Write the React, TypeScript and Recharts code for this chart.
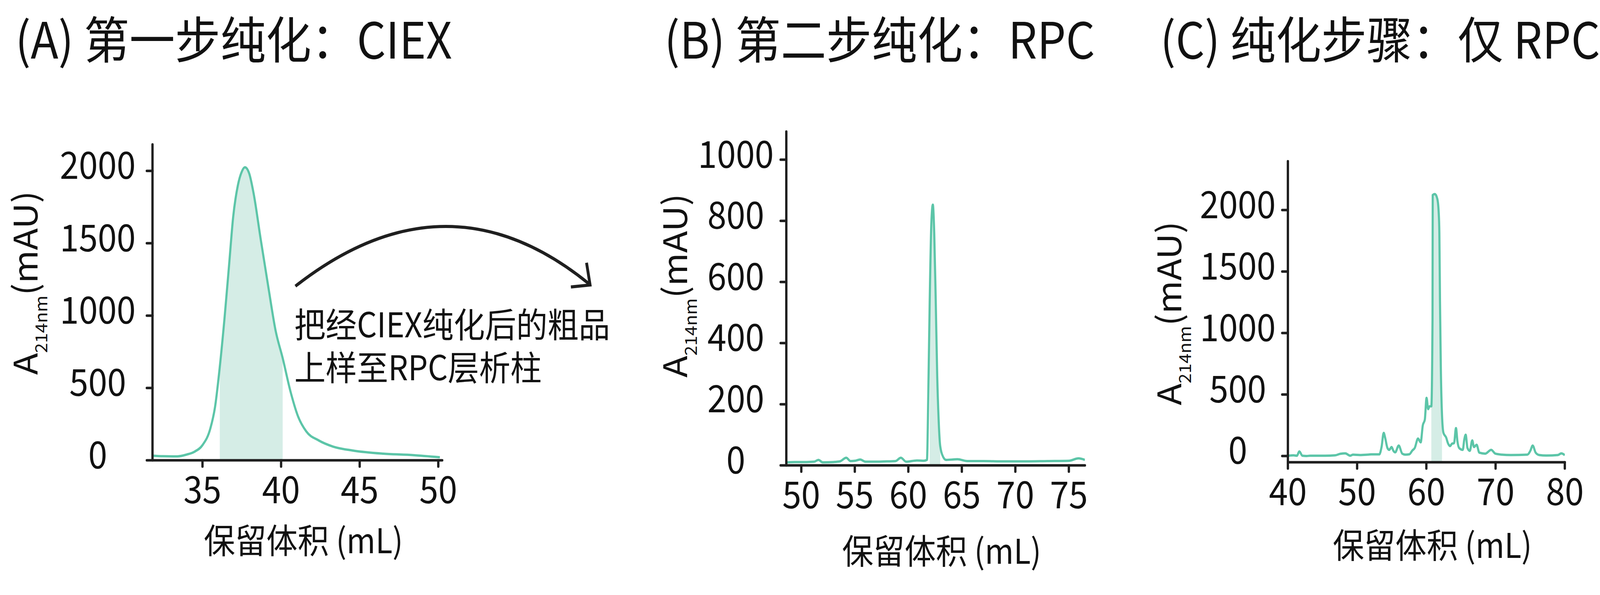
import { Area, ComposedChart, Label, Line, XAxis, YAxis } from 'recharts'

const GREEN = '#5cc5a8'
const POOL_FILL = '#d5ede6'
const INK = '#1f1f1f'
const TEXT = '#111'
const FONT = "'Noto Sans CJK SC', 'Noto Sans', sans-serif"

// the browser window stops at 4096px wide, so the 4501px layout is squeezed to fit
const PAGE_W = 4501
const PAGE_H = 1524
const FIT_X = 4096 / PAGE_W

// (A) CIEX
const ciexVolume = [31.82, 32.5, 33.4, 34.0, 34.5, 35.0, 35.5, 35.8, 36.1, 36.4, 36.7, 36.95, 37.25, 37.5, 37.7, 37.97, 38.25, 38.7, 39.2, 39.65, 40.1, 40.6, 41.07, 41.6, 42.4, 43.3, 44.6, 46.5, 48.4, 50.1]
const ciexAbs = [32, 28, 27, 40, 60, 105, 220, 370, 645, 980, 1360, 1680, 1900, 1995, 2025, 1983, 1846, 1530, 1190, 897, 707, 475, 306, 200, 137, 95, 67, 46, 36, 21]
const ciexPool = [36.1, 40.1]
const ciexXTicks = [35, 40, 45, 50]
const ciexYTicks = [0, 500, 1000, 1500, 2000]

// (B) RPC after CIEX
const rpcVolume = [48.6, 49.5, 50.5, 51.2, 51.6, 52.0, 53.0, 53.6, 54.2, 54.6, 55.0, 55.5, 56.0, 57.0, 58.0, 58.8, 59.3, 59.8, 60.8, 61.4, 61.74, 61.87, 62.0, 62.15, 62.29, 62.42, 62.56, 62.7, 62.84, 62.98, 63.25, 63.53, 64.6, 65.5, 67, 69, 71, 73, 75.0, 75.9, 76.5]
const rpcAbs = [10, 11, 11, 12, 18, 10, 11, 13, 25, 14, 15, 19, 12, 12, 13, 14, 25, 12, 16, 15, 18, 242, 541, 790, 853, 760, 541, 292, 143, 63, 28, 18, 20, 14, 14, 13, 13, 14, 15, 23, 18]
const rpcPool = [62.0, 62.98]
const rpcXTicks = [50, 55, 60, 65, 70, 75]
const rpcYTicks = [0, 200, 400, 600, 800, 1000]

// (C) RPC only
const onlyVolume = [40, 40.8, 41.3, 41.65, 42.1, 42.7, 43.2, 45.4, 46.8, 47.6, 48.3, 49.0, 49.4, 50.4, 51.5, 52.0, 53.2, 53.53, 53.84, 54.04, 54.38, 54.64, 54.98, 55.24, 55.5, 56.01, 56.52, 56.95, 57.55, 57.98, 58.32, 58.8, 59.18, 59.49, 59.78, 60.03, 60.26, 60.46, 60.72, 60.89, 60.92, 61.23, 61.58, 61.78, 61.88, 61.97, 62.09, 62.26, 62.47, 62.86, 63.12, 63.42, 63.72, 64.0, 64.28, 64.49, 64.74, 65.26, 65.48, 65.68, 65.94, 66.28, 66.63, 66.88, 67.26, 67.65, 68.51, 69.37, 69.97, 70.91, 72.19, 74.59, 75.02, 75.36, 75.79, 76.3, 77.33, 79.0, 79.5, 80]
const onlyAbs = [2, 5, 2, 37, 2, 0, 2, 2, 5, 18, 21, 2, 11, 8, 11, 13, 13, 73, 188, 150, 65, 50, 73, 42, 30, 85, 19, 11, 14, 45, 65, 142, 111, 250, 296, 473, 381, 404, 404, 1105, 2122, 2130, 2092, 1984, 1814, 1259, 720, 335, 188, 150, 104, 81, 101, 104, 227, 119, 65, 50, 134, 173, 65, 42, 127, 73, 91, 27, 19, 50, 19, 11, 8, 11, 42, 85, 27, 8, 4, 8, 21, 7]
const onlyPool = [60.72, 62.26]
const onlyXTicks = [40, 50, 60, 70, 80]
const onlyYTicks = [0, 500, 1000, 1500, 2000]

const Y_AXIS_W = 330
const X_AXIS_H = 330
const PAD_TOP = 60
const PAD_RIGHT = 80
const axisStyle = { stroke: INK, strokeWidth: 6.5, strokeLinecap: 'round' as const }

function buildRows(volume: number[], abs: number[], pool: number[]) {
  return volume.map((v, i) => ({
    v,
    abs: abs[i],
    pool: v >= pool[0] && v <= pool[1] ? abs[i] : null,
  }))
}

function YTick({ x, y, payload }: any) {
  return (
    <text x={x} y={y - 14} dy="0.36em" textAnchor="middle" fontSize={96} fill={TEXT}>
      {payload.value}
    </text>
  )
}

interface PanelProps {
  rows: { v: number; abs: number; pool: number | null }[]
  xDomain: number[]
  yDomain: number[]
  xTicks: number[]
  yTicks: number[]
  box: { left: number; right: number; top: number; bottom: number }
  yTickGap: number
  labelBaseline: number
}

function Panel({ rows, xDomain, yDomain, xTicks, yTicks, box, yTickGap, labelBaseline }: PanelProps) {
  const plotW = box.right - box.left
  const plotH = box.bottom - box.top
  return (
    <div style={{ position: 'absolute', left: box.left - Y_AXIS_W, top: box.top - PAD_TOP }}>
      <ComposedChart
        width={Y_AXIS_W + plotW + PAD_RIGHT}
        height={PAD_TOP + plotH + X_AXIS_H}
        data={rows}
        margin={{ top: PAD_TOP, right: PAD_RIGHT, left: 0, bottom: 0 }}
      >
        <XAxis
          dataKey="v"
          type="number"
          domain={xDomain}
          ticks={xTicks}
          interval={0}
          allowDataOverflow
          height={X_AXIS_H}
          tickSize={16}
          tickMargin={26}
          axisLine={axisStyle}
          tickLine={axisStyle}
          tick={{ fontSize: 96, fill: TEXT }}
        >
          <Label
            value="保留体积 (mL)"
            position="insideBottom"
            offset={box.bottom + X_AXIS_H - labelBaseline}
            dx={17}
            fontSize={88}
            fill={TEXT}
          />
        </XAxis>
        <YAxis
          type="number"
          domain={yDomain}
          ticks={yTicks}
          interval={0}
          allowDataOverflow
          width={Y_AXIS_W}
          tickSize={16}
          tickMargin={yTickGap}
          axisLine={axisStyle}
          tickLine={axisStyle}
          tick={(p: any) => <YTick {...p} />}
        />
        <Area dataKey="pool" type="monotone" stroke="none" fill={POOL_FILL} fillOpacity={1} baseValue={yDomain[0]} isAnimationActive={false} />
        <Line dataKey="abs" type="monotone" stroke={GREEN} strokeWidth={6} strokeLinejoin="round" dot={false} isAnimationActive={false} />
      </ComposedChart>
    </div>
  )
}

function YLabel({ x, y }: { x: number; y: number }) {
  return (
    <text transform={`translate(${x},${y}) rotate(-90)`} fontSize={92} fill={TEXT}>
      A
      <tspan fontSize={46} dy={27}>214nm</tspan>
      <tspan dy={-27}>(mAU)</tspan>
    </text>
  )
}

export default function App() {
  return (
    <div
      style={{
        position: 'absolute',
        left: 0,
        top: 0,
        width: PAGE_W,
        height: PAGE_H,
        background: '#fff',
        fontFamily: FONT,
        transform: `scaleX(${FIT_X})`,
        transformOrigin: '0 0',
      }}
    >
      <Panel
        rows={buildRows(ciexVolume, ciexAbs, ciexPool)}
        xDomain={[31.82, 50.25]}
        yDomain={[0, 2183]}
        xTicks={ciexXTicks}
        yTicks={ciexYTicks}
        box={{ left: 429, right: 1244, top: 370, bottom: 1179 }}
        yTickGap={138}
        labelBaseline={1417}
      />
      <Panel
        rows={buildRows(rpcVolume, rpcAbs, rpcPool)}
        xDomain={[48.6, 76.5]}
        yDomain={[0, 1092]}
        xTicks={rpcXTicks}
        yTicks={rpcYTicks}
        box={{ left: 2212, right: 3052, top: 337, bottom: 1192 }}
        yTickGap={126}
        labelBaseline={1444}
      />
      <Panel
        rows={buildRows(onlyVolume, onlyAbs, onlyPool)}
        xDomain={[40, 80]}
        yDomain={[-51, 2397]}
        xTicks={onlyXTicks}
        yTicks={onlyYTicks}
        box={{ left: 3623, right: 4402, top: 413, bottom: 1184 }}
        yTickGap={125}
        labelBaseline={1429}
      />
      <svg width={PAGE_W} height={PAGE_H} style={{ position: 'absolute', left: 0, top: 0, pointerEvents: 'none' }}>
        <text x={43} y={150} fontSize={128} fill={TEXT}>(A) 第一步纯化：CIEX</text>
        <text x={1869} y={150} fontSize={128} fill={TEXT}>(B) 第二步纯化：RPC</text>
        <text x={3264} y={150} fontSize={128} fill={TEXT}>(C) 纯化步骤：仅 RPC</text>
        <YLabel x={106} y={960} />
        <YLabel x={1933} y={967} />
        <YLabel x={3323} y={1038} />
        <text x={828} y={864} fontSize={88} fill={TEXT}>把经CIEX纯化后的粗品</text>
        <text x={828} y={974} fontSize={88} fill={TEXT}>上样至RPC层析柱</text>
        <path d="M831,733 Q1256,430 1657,727" stroke={INK} strokeWidth={8} fill="none" />
        <polyline points="1650,673 1660,730 1606,735" stroke={INK} strokeWidth={8} fill="none" />
      </svg>
    </div>
  )
}
